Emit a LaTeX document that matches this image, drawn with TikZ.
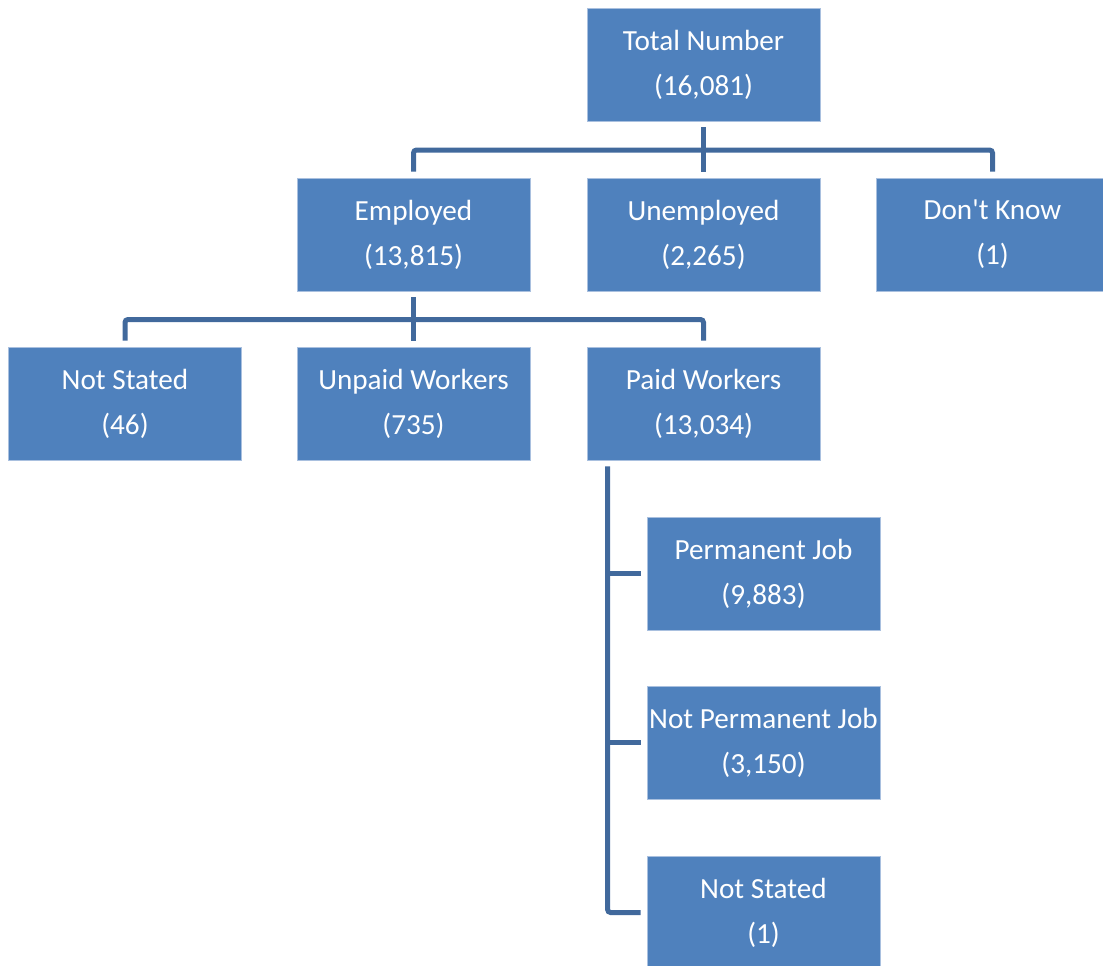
\documentclass[tikz,border=0pt]{standalone}
\usepackage{fontspec}
\setmainfont{Carlito}[Ligatures=TeXOff]
\usetikzlibrary{positioning, calc}
\definecolor{cfill}{HTML}{4F81BD}
\definecolor{cedge}{HTML}{A9C0DF}
\definecolor{cline}{HTML}{41699C}
\tikzset{
  every picture/.style={x=0.5pt, y=-0.5pt},
  box/.style={draw=cedge, line width=0.4pt, fill=cfill, text=white, align=center, inner sep=0pt,
    minimum width=116.5pt, minimum height=56.5pt, font=\fontsize{14.6}{22.5}\selectfont},
  link/.style={draw=cline, line width=2.5pt, rounded corners=1.5pt},
}
\newcommand{\tally}[5]{
  \node[box] (#1) at (#2,#3) {#4\\(#5)};
}

\begin{document}
\begin{tikzpicture}
  \useasboundingbox (0,0) rectangle (1103,965);
  \clip (0,0) rectangle (1103,965);
  % Level 1 and 2
  \tally{total}{703.5}{64.5}{Total Number}{16,081}
  \tally{employed}{413.5}{234.5}{Employed}{13,815}
  \tally{unemployed}{703.5}{234.5}{Unemployed}{2,265}
  \tally{dontknow}{992.5}{234.5}{Don't Know}{1}
  \coordinate (bus1) at (703.5,150);
  \draw[link] ([yshift=-3pt]total.south) -- ([yshift=3pt]unemployed.north);
  \draw[link] ([yshift=3pt]employed.north) |- (bus1) -| ([yshift=3pt]dontknow.north);
  % Level 3
  \tally{notstated}{125}{403.5}{Not Stated}{46}
  \tally{unpaid}{413.5}{403.5}{Unpaid Workers}{735}
  \tally{paid}{703.5}{403.5}{Paid Workers}{13,034}
  \coordinate (bus2) at (413.5,319.5);
  \draw[link] ([yshift=-3pt]employed.south) -- ([yshift=3pt]unpaid.north);
  \draw[link] ([yshift=3pt]notstated.north) |- (bus2) -| ([yshift=3pt]paid.north);
  % Paid workers
  \tally{permanent}{763.5}{573.5}{Permanent Job}{9,883}
  \tally{temporary}{763.5}{742.5}{Not Permanent Job}{3,150}
  \tally{paidnotstated}{763.5}{912.5}{Not Stated}{1}
  \coordinate (trunk) at ($(paid.south west)+(21,6)$);
  \draw[link] (trunk) |- ([xshift=-3pt]paidnotstated.west);
  \draw[link] (trunk |- permanent.west) -- ([xshift=-3pt]permanent.west);
  \draw[link] (trunk |- temporary.west) -- ([xshift=-3pt]temporary.west);
\end{tikzpicture}
\end{document}
